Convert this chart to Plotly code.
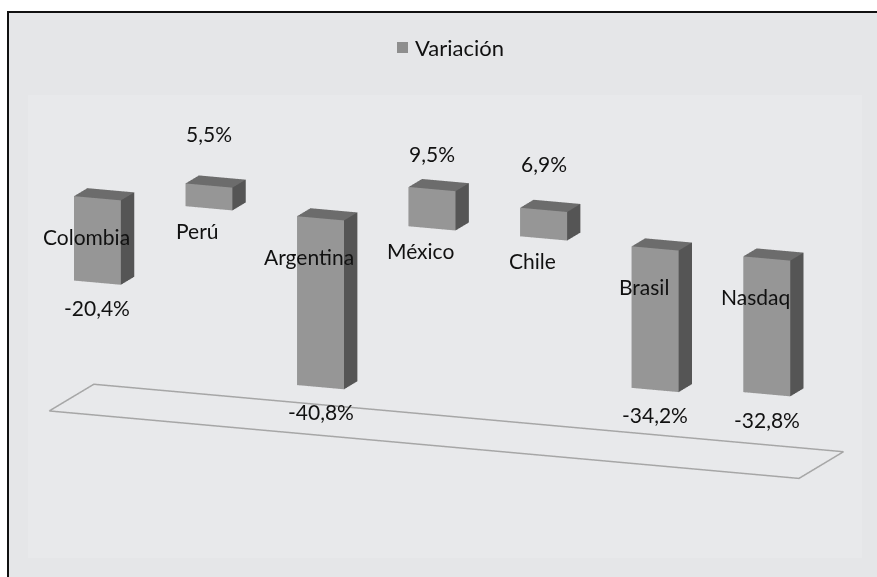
import plotly.graph_objects as go

# Data
categories = ["Colombia", "Perú", "Argentina", "México", "Chile", "Brasil", "Nasdaq"]
variation = [-20.4, 5.5, -40.8, 9.5, 6.9, -34.2, -32.8]
value_labels = ["-20,4%", "5,5%", "-40,8%", "9,5%", "6,9%", "-34,2%", "-32,8%"]
series_name = "Variación"

# Styling
FRONT = "#969696"
SIDE = "#555555"
TOP = "#6c6c6c"
BG = "#e5e6e8"
INNER = "#e8e9eb"
FONT = "Lato"

BAR_W = 0.42      # bar width in category units
BAR_D = 0.30      # bar depth
FLOOR_Z = -50     # floor plane level (%)
X_RANGE = [-0.75, 6.75]
Y_RANGE = [-0.36, 0.69]
Z_RANGE = [-52, 20]

# Build the 3D boxes as one mesh
xs, ys, zs, I, J, K, fc = [], [], [], [], [], [], []
box_faces = [
    ((0, 1, 5), FRONT), ((0, 5, 4), FRONT),   # front
    ((3, 2, 6), SIDE), ((3, 6, 7), SIDE),     # back
    ((0, 3, 7), SIDE), ((0, 7, 4), SIDE),     # left
    ((1, 2, 6), SIDE), ((1, 6, 5), SIDE),     # right
    ((0, 1, 2), SIDE), ((0, 2, 3), SIDE),     # bottom
    ((4, 5, 6), TOP), ((4, 6, 7), TOP),       # top
]
for idx, v in enumerate(variation):
    x0, x1 = idx - BAR_W / 2, idx + BAR_W / 2
    y0, y1 = 0.0, BAR_D
    z0, z1 = min(0.0, v), max(0.0, v)
    base = len(xs)
    corners = [(x0, y0, z0), (x1, y0, z0), (x1, y1, z0), (x0, y1, z0),
               (x0, y0, z1), (x1, y0, z1), (x1, y1, z1), (x0, y1, z1)]
    for cx, cy, cz in corners:
        xs.append(cx); ys.append(cy); zs.append(cz)
    for (a, b, c), col in box_faces:
        I.append(base + a); J.append(base + b); K.append(base + c)
        fc.append(col)

bars = go.Mesh3d(
    x=xs, y=ys, z=zs, i=I, j=J, k=K,
    facecolor=fc, flatshading=True,
    lighting=dict(ambient=1.0, diffuse=0.0, specular=0.0, roughness=1.0, fresnel=0.0),
    hoverinfo="skip", showlegend=False, name=series_name,
)

# Floor outline
fx0, fx1 = -0.3, 6.42
fy0, fy1 = -0.33, 0.67
floor = go.Scatter3d(
    x=[fx0, fx1, fx1, fx0, fx0],
    y=[fy0, fy0, fy1, fy1, fy0],
    z=[FLOOR_Z] * 5,
    mode="lines", line=dict(color="#a6a6a6", width=3),
    hoverinfo="skip", showlegend=False,
)

fig = go.Figure([floor, bars])

# Labels in scene coordinates
scene_ann = []
for idx, (cat, v, lab) in enumerate(zip(categories, variation, value_labels)):
    cat_z = -9.5 if v < 0 else -5.5
    scene_ann.append(dict(x=idx - 0.1, y=0.0, z=cat_z, text=cat, showarrow=False,
                          font=dict(family=FONT, size=21, color="#111111")))
    val_z = v - 6 if v < 0 else 18
    scene_ann.append(dict(x=idx, y=0.0, z=val_z, text=lab, showarrow=False,
                          font=dict(family=FONT, size=21, color="#111111")))

hidden = dict(visible=False, showbackground=False, showgrid=False,
              zeroline=False, showspikes=False)

fig.update_layout(
    width=877, height=577,
    margin=dict(l=0, r=0, t=0, b=0),
    paper_bgcolor="white",
    showlegend=False,
    scene=dict(
        domain=dict(x=[0, 1], y=[0, 1]),
        xaxis=dict(range=X_RANGE, **hidden),
        yaxis=dict(range=Y_RANGE, **hidden),
        zaxis=dict(range=Z_RANGE, **hidden),
        aspectmode="manual",
        aspectratio=dict(x=3.110, y=0.4482, z=1.0617),
        camera=dict(
            projection=dict(type="orthographic"),
            eye=dict(x=0.8749, y=-2.2679, z=0.5868),
            center=dict(x=-0.0034, y=-0.0004, z=0.0058),
            up=dict(x=0, y=0, z=1),
        ),
        bgcolor="rgba(0,0,0,0)",
        annotations=scene_ann,
    ),
    shapes=[
        # chart frame
        dict(type="rect", xref="paper", yref="paper", layer="below",
             x0=8 / 877, x1=1.05, y0=-0.05, y1=1 - 12 / 577,
             fillcolor=BG, line=dict(color="#111111", width=2)),
        # plot area
        dict(type="rect", xref="paper", yref="paper", layer="below",
             x0=28 / 877, x1=862 / 877, y0=1 - 558 / 577, y1=1 - 95 / 577,
             fillcolor=INNER, line=dict(width=0)),
        # legend swatch
        dict(type="rect", xref="paper", yref="paper",
             x0=397 / 877, x1=408 / 877, y0=1 - 53 / 577, y1=1 - 42 / 577,
             fillcolor="#8e8e8e", line=dict(width=0)),
    ],
    annotations=[
        dict(xref="paper", yref="paper", x=413 / 877, y=1 - 47.5 / 577,
             xanchor="left", yanchor="middle", text=series_name, showarrow=False,
             font=dict(family=FONT, size=22, color="#111111")),
    ],
)

fig.write_html("out.html", config={"displayModeBar": False})
